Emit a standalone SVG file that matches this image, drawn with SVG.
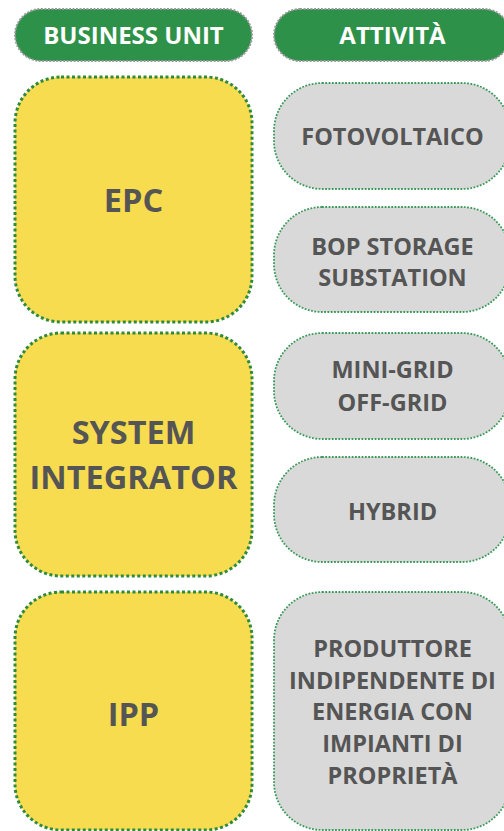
<svg xmlns="http://www.w3.org/2000/svg" width="504" height="831" viewBox="0 0 504 831">
<style>
.hdr{fill:#2e914a;stroke:#9a9a9a;stroke-width:2;stroke-dasharray:2 1.5}
.bu{fill:#f7dc50;stroke:#2e8b3e;stroke-width:3;stroke-dasharray:3 2.5}
.act{fill:#d9d9d9;stroke:#3a9a5a;stroke-width:1.8;stroke-dasharray:1.8 1.5}
text{font-family:"Open Sans","Liberation Sans",sans-serif;font-weight:700;text-anchor:middle}
.ht{fill:#ffffff;font-size:24px}
.bt{fill:#555555;font-size:32.5px}
.at{fill:#555555;font-size:23.5px}
</style>
<rect width="504" height="831" fill="#ffffff"/>
<g id="header-business-unit">
<rect class="hdr" x="15" y="9" width="237" height="52" rx="26"/>
<text class="ht" x="133.5" y="43.5">BUSINESS UNIT</text>
</g>
<g id="header-attivita">
<rect class="hdr" x="274" y="9" width="236" height="52" rx="26"/>
<text class="ht" x="392.5" y="43.5">ATTIVITÀ</text>
</g>
<g id="bu-epc">
<rect class="bu" x="15" y="77" width="237" height="245" rx="46"/>
<text class="bt" x="133.5" y="212">EPC</text>
</g>
<g id="bu-system-integrator">
<rect class="bu" x="15" y="333" width="237" height="243" rx="46"/>
<text class="bt" x="133.5" y="444">SYSTEM</text>
<text class="bt" x="133.5" y="489">INTEGRATOR</text>
</g>
<g id="bu-ipp">
<rect class="bu" x="15" y="592" width="237" height="238" rx="46"/>
<text class="bt" x="133.5" y="726">IPP</text>
</g>
<g id="act-fotovoltaico">
<rect class="act" x="274" y="83" width="236" height="106" rx="48"/>
<text class="at" x="392.5" y="145">FOTOVOLTAICO</text>
</g>
<g id="act-bop">
<rect class="act" x="274" y="207" width="236" height="105" rx="48"/>
<text class="at" x="392.5" y="255">BOP STORAGE</text>
<text class="at" x="392.5" y="286">SUBSTATION</text>
</g>
<g id="act-minigrid">
<rect class="act" x="274" y="333" width="236" height="106" rx="48"/>
<text class="at" x="392.5" y="378">MINI-GRID</text>
<text class="at" x="392.5" y="411">OFF-GRID</text>
</g>
<g id="act-hybrid">
<rect class="act" x="274" y="457" width="236" height="105" rx="48"/>
<text class="at" x="392.5" y="520">HYBRID</text>
</g>
<g id="act-ipp">
<rect class="act" x="274" y="592" width="236" height="238" rx="48"/>
<text class="at" x="392.5" y="657">PRODUTTORE</text>
<text class="at" x="392.5" y="689">INDIPENDENTE DI</text>
<text class="at" x="392.5" y="720">ENERGIA CON</text>
<text class="at" x="392.5" y="752">IMPIANTI DI</text>
<text class="at" x="392.5" y="784">PROPRIETÀ</text>
</g>
<g id="connectors"></g>
</svg>
